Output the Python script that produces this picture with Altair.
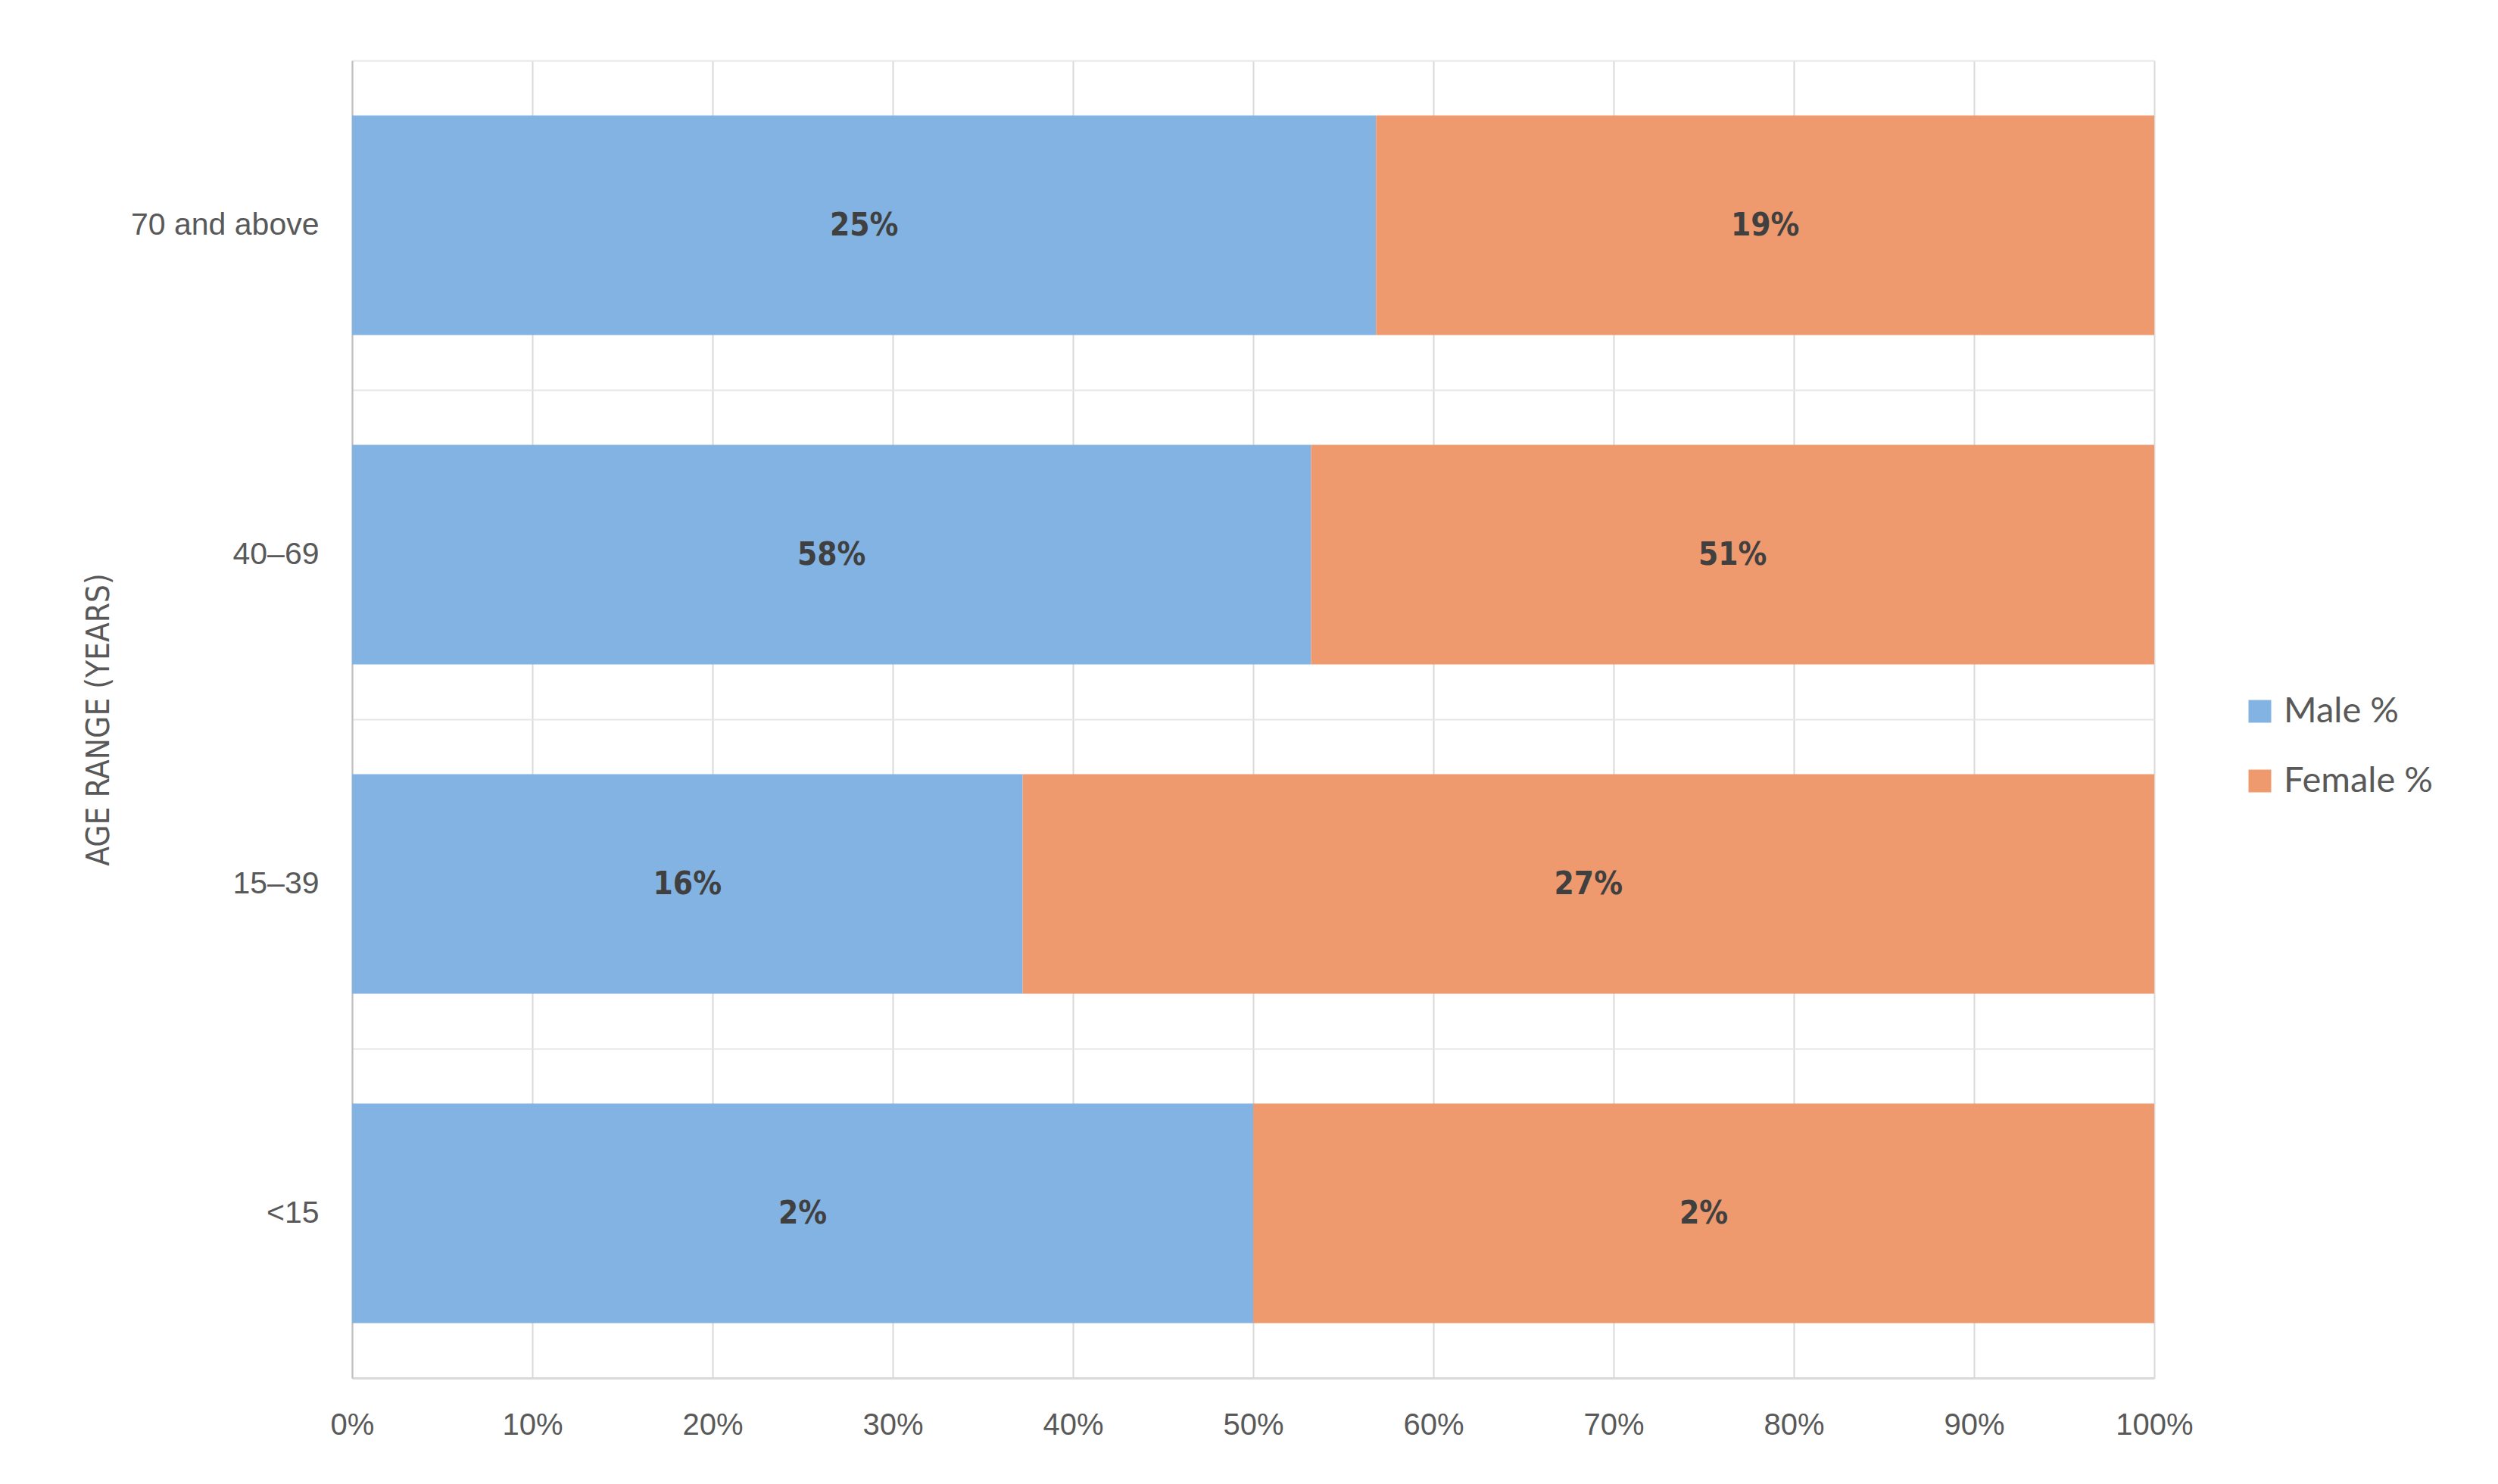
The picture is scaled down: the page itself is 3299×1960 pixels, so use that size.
import altair as alt
import pandas as pd

ages = ["70 and above", "40–69", "15–39", "<15"]
male = [25, 58, 16, 2]
female = [19, 51, 27, 2]
series = ["Male %", "Female %"]
colors = ["#83B3E2", "#EE9A6E"]
x_ticks = [0, 0.1, 0.2, 0.3, 0.4, 0.5, 0.6, 0.7, 0.8, 0.9, 1.0]

NARROW = "'Liberation Sans Narrow', 'DejaVu Sans Condensed', 'Liberation Sans', sans-serif"

rows = []
for a, m, f in zip(ages, male, female):
    rows.append({"age": a, "series": series[0], "order": 0, "value": m})
    rows.append({"age": a, "series": series[1], "order": 1, "value": f})
df = pd.DataFrame(rows)

base = alt.Chart(df).transform_stack(
    stack="value", groupby=["age"], as_=["v0", "v1"],
    offset="normalize", sort=[alt.SortField("order")]
).transform_calculate(
    mid="(datum.v0 + datum.v1) / 2",
    label="datum.value + '%'"
)

y_enc = alt.Y(
    "age:N", sort=ages,
    scale=alt.Scale(paddingInner=0, paddingOuter=0),
    axis=alt.Axis(
        title="AGE RANGE (YEARS)", ticks=False, labelPadding=44, labelLimit=0,
        labelFontSize=41, labelColor="#595959", labelFont="Liberation Sans",
        titleFont=NARROW, titleFontSize=42, titleFontWeight="normal",
        titleColor="#595959", titleX=-335, titleBaseline="middle", titleAngle=-90,
        grid=True, tickBand="extent", gridColor="#E6E6E6", gridWidth=2,
        domainColor="#BFBFBF", domainWidth=2,
    ),
)

bars = base.mark_bar(height={"band": 0.667}).encode(
    x=alt.X(
        "v0:Q",
        scale=alt.Scale(domain=[0, 1], nice=False),
        axis=alt.Axis(
            values=x_ticks, format=".0%", title=None, ticks=False,
            labelFlush=False, labelPadding=42, labelFontSize=40, labelColor="#595959",
            labelFont="Liberation Sans", grid=True, gridColor="#D9D9D9",
            gridWidth=2, domainColor="#D9D9D9", domainWidth=3,
        ),
    ),
    x2="v1:Q",
    y=y_enc,
    color=alt.Color(
        "series:N", sort=series,
        scale=alt.Scale(domain=series, range=colors),
        legend=alt.Legend(
            title=None, orient="none", legendX=2496, legendY=836,
            symbolType="square", symbolSize=900, symbolStrokeWidth=0,
            labelFontSize=47, labelFont="Lato", labelColor="#595959",
            labelOffset=8, rowPadding=44, labelLimit=0,
        ),
    ),
    order=alt.Order("order:Q"),
)

labels = base.mark_text(
    font=NARROW, fontSize=42, fontWeight="bold", color="#404040",
    baseline="middle", align="center",
).encode(
    x="mid:Q",
    y=alt.Y("age:N", sort=ages),
    text="label:N",
)

chart = alt.layer(bars, labels).properties(
    width=2380, height=1740,
    autosize=alt.AutoSizeParams(type="none"),
    padding={"left": 457, "top": 72, "right": 420, "bottom": 120},
).configure_view(stroke=None).configure(background="white")

chart.save("out.html", embed_options={"renderer": "svg", "actions": False})
